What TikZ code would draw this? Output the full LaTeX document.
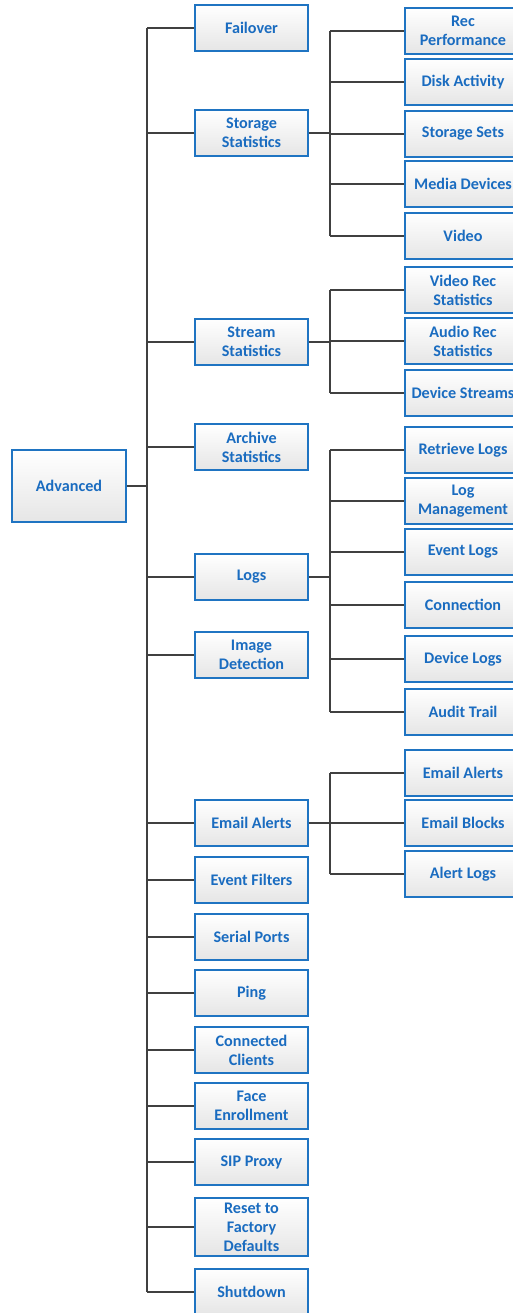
\documentclass[tikz,border=0pt]{standalone}
\usepackage{fontspec}
\setmainfont{Carlito}
\usetikzlibrary{shadows}

\definecolor{boxblue}{HTML}{1F74C2}
\definecolor{textblue}{HTML}{1A6CC0}
\definecolor{linegray}{HTML}{404040}

\tikzset{
	box/.style={draw=boxblue, line width=1.1pt, top color=white, bottom color=black!10,
		text=textblue, font=\bfseries\fontsize{9.2}{10.8}\selectfont, align=center,
		minimum width=2.26cm, minimum height=0.92cm, inner ysep=2.5pt,
		drop shadow={opacity=0.2, shadow xshift=0.6pt, shadow yshift=-0.6pt}},
	leaf/.style={box, minimum width=2.32cm},
	conn/.style={draw=linegray, line width=1.1pt}
}

\begin{document}
\begin{tikzpicture}[x=0.02cm,y=-0.02cm]
	\useasboundingbox (0,0) rectangle (512,1313);
	\node[box, minimum width=2.28cm, minimum height=1.44cm] (adv) at (69,486) {Advanced};
	% first level
	\foreach \name/\y/\txt in {fail/28/Failover, stor/133/Storage\\Statistics,
		strm/342/Stream\\Statistics, arch/447/Archive\\Statistics, logs/577/Logs,
		img/655/Image\\Detection, mail/823/Email Alerts, filt/880/Event Filters,
		serial/937/Serial Ports, ping/993/Ping, clients/1050/Connected\\Clients,
		face/1106/Face\\Enrollment, sip/1162/SIP Proxy,
		reset/1227/Reset to\\Factory\\Defaults, shut/1292/Shutdown} {
		\node[box] (\name) at (251.5,\y) {\txt};
	}
	% second level
	\foreach \name/\y/\txt in {recperf/31/Rec\\Performance, disk/82/Disk Activity,
		sets/134/Storage Sets, media/184/Media Devices, video/236/Video,
		vrec/290/Video Rec\\Statistics, arec/341/Audio Rec\\Statistics,
		devstrm/393/Device Streams,
		retr/450/Retrieve Logs, logman/501/Log\\Management, evlogs/552/Event Logs,
		conn/605/Connection, devlogs/659/Device Logs, audit/712/Audit Trail,
		malerts/773/Email Alerts, mblocks/823/Email Blocks, alogs/874/Alert Logs} {
		\node[leaf] (\name) at (463,\y) {\txt};
	}

	% main trunk
	\coordinate (trunk) at (147,486);
	\draw[conn] (adv.east) -- (trunk);
	\draw[conn] (trunk |- fail.west) -- (trunk |- shut.west);
	\foreach \name in {fail,stor,strm,arch,logs,img,mail,filt,serial,ping,clients,face,sip,reset,shut} {
		\draw[conn] (trunk |- \name.west) -- (\name.west);
	}

	% branches
	\coordinate (sub) at (330,0);
	\foreach \parent/\first/\last/\kids in {stor/recperf/video/{recperf,disk,sets,media,video},
		strm/vrec/devstrm/{vrec,arec,devstrm},
		logs/retr/audit/{retr,logman,evlogs,conn,devlogs,audit},
		mail/malerts/alogs/{malerts,mblocks,alogs}} {
		\draw[conn] (\parent.east) -- (sub |- \parent.east);
		\draw[conn] (sub |- \first.west) -- (sub |- \last.west);
		\foreach \k in \kids {
			\draw[conn] (sub |- \k.west) -- (\k.west);
		}
	}
\end{tikzpicture}
\end{document}
